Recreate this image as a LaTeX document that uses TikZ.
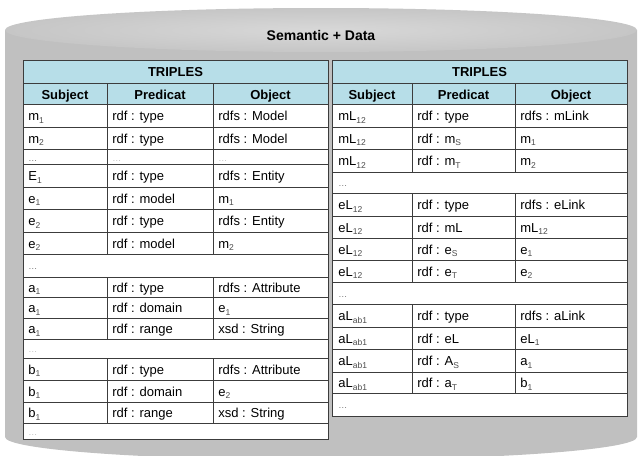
\documentclass[tikz,border=0pt]{standalone}
\usepackage{fontspec}
\setmainfont{Liberation Sans}
\definecolor{cbody}{HTML}{C0C0C0}
\definecolor{ctop}{HTML}{D8D8D8}
\definecolor{ctoprim}{HTML}{C6C6C6}
\definecolor{chead}{HTML}{B7DEE8}
\definecolor{cline}{HTML}{3C3C3C}
\newcommand{\ix}[1]{\raisebox{-2.5pt}{\textcolor{black!70}{\fontsize{8.5}{9}\selectfont #1}}}
\newcommand{\darkdots}{\textcolor{black!55}{\fontsize{9}{9}\selectfont\ldots}}
\newcommand{\paledots}{\textcolor{black!25}{\fontsize{9}{9}\selectfont\ldots}}
\tikzset{
  every picture/.style={line width=0.8pt},
  grid/.style={draw=cline},
  txt/.style={anchor=base west, inner sep=0pt, font=\fontsize{13}{15}\selectfont},
  hd/.style={anchor=base, inner sep=0pt, font=\fontsize{13}{15}\selectfont\bfseries},
  title/.style={inner sep=0pt, font=\fontsize{14}{16}\selectfont\bfseries},
}

\begin{document}
\begin{tikzpicture}[x=1pt, y=1pt]
  \useasboundingbox (0,0) rectangle (642,-455);
  \fill[white] (0,0) rectangle (642,-455);
  % database drum
  \fill[cbody] (5,-30) -- (5,-437) arc[start angle=180, end angle=360, x radius=316pt, y radius=23pt] -- (637,-30) -- cycle;
  \shade[inner color=ctop, outer color=ctoprim] (321,-30) ellipse[x radius=316pt, y radius=22pt];
  \node[title] (drum) at (321,-35) {Semantic + Data};
  % left table: model, entities, attributes
  \fill[chead] (23,-60) rectangle (328,-104);
  \draw[grid] (23,-60) rectangle (328,-104) (23,-83) -- (328,-83)
    (107,-83) -- (107,-104) (213,-83) -- (213,-104);
  \node[hd] (Ltitle) at (175.5,-76) {TRIPLES};
  \node[hd] (Lsub) at (65,-99) {Subject};
  \node[hd] (Lpre) at (160,-99) {Predicat};
  \node[hd] (Lobj) at (270.5,-99) {Object};
  \foreach \ya/\yb/\s/\p/\o in {
      104/127/m\ix{1}/rdf : type/rdfs : Model,
      127/149/m\ix{2}/rdf : type/rdfs : Model,
      149/164/\darkdots/\paledots/\paledots,
      164/187/E\ix{1}/rdf : type/rdfs : Entity,
      187/209/e\ix{1}/rdf : model/m\ix{1},
      209/232/e\ix{2}/rdf : type/rdfs : Entity,
      232/254/e\ix{2}/rdf : model/m\ix{2},
      277/297/a\ix{1}/rdf : type/rdfs : Attribute,
      297/318/a\ix{1}/rdf : domain/e\ix{1},
      318/339/a\ix{1}/rdf : range/xsd : String,
      358/380/b\ix{1}/rdf : type/rdfs : Attribute,
      380/402/b\ix{1}/rdf : domain/e\ix{2},
      402/423/b\ix{1}/rdf : range/xsd : String}{
    \draw[grid, fill=white] (23,-\ya) rectangle (328,-\yb)
      (107,-\ya) -- (107,-\yb) (213,-\ya) -- (213,-\yb);
    \node[txt] (Ls\ya) at (28,{-(\ya+\yb)/2-5}) {\s};
    \node[txt] (Lp\ya) at (112,{-(\ya+\yb)/2-5}) {\p};
    \node[txt] (Lo\ya) at (218,{-(\ya+\yb)/2-5}) {\o};
  }
  \foreach \ya/\yb/\d in {254/277/\darkdots, 339/358/\paledots, 423/439/\paledots}{
    \draw[grid, fill=white] (23,-\ya) rectangle (328,-\yb);
    \node[txt] (Ld\ya) at (28,{-(\ya+\yb)/2-4}) {\d};
  }
  % right table: links between models, entities, attributes
  \fill[chead] (332,-60) rectangle (627,-104);
  \draw[grid] (332,-60) rectangle (627,-104) (332,-83) -- (627,-83)
    (412,-83) -- (412,-104) (515,-83) -- (515,-104);
  \node[hd] (Rtitle) at (479.5,-76) {TRIPLES};
  \node[hd] (Rsub) at (372,-99) {Subject};
  \node[hd] (Rpre) at (463.5,-99) {Predicat};
  \node[hd] (Robj) at (571,-99) {Object};
  \foreach \ya/\yb/\s/\p/\o in {
      104/127/mL\ix{12}/rdf : type/rdfs : mLink,
      127/149/mL\ix{12}/rdf : m\ix{S}/m\ix{1},
      149/172/mL\ix{12}/rdf : m\ix{T}/m\ix{2},
      193/216/eL\ix{12}/rdf : type/rdfs : eLink,
      216/238/eL\ix{12}/rdf : mL/mL\ix{12},
      238/260/eL\ix{12}/rdf : e\ix{S}/e\ix{1},
      260/282/eL\ix{12}/rdf : e\ix{T}/e\ix{2},
      304/327/aL\ix{ab1}/rdf : type/rdfs : aLink,
      327/349/aL\ix{ab1}/rdf : eL/eL\ix{1},
      349/372/aL\ix{ab1}/rdf : A\ix{S}/a\ix{1},
      372/393/aL\ix{ab1}/rdf : a\ix{T}/b\ix{1}}{
    \draw[grid, fill=white] (332,-\ya) rectangle (627,-\yb)
      (412,-\ya) -- (412,-\yb) (515,-\ya) -- (515,-\yb);
    \node[txt] (Rs\ya) at (338,{-(\ya+\yb)/2-5}) {\s};
    \node[txt] (Rp\ya) at (417,{-(\ya+\yb)/2-5}) {\p};
    \node[txt] (Ro\ya) at (520,{-(\ya+\yb)/2-5}) {\o};
  }
  \foreach \ya/\yb in {172/193, 282/304, 393/416}{
    \draw[grid, fill=white] (332,-\ya) rectangle (627,-\yb);
    \node[txt] (Rd\ya) at (338,{-(\ya+\yb)/2-4}) {\darkdots};
  }
\end{tikzpicture}
\end{document}
